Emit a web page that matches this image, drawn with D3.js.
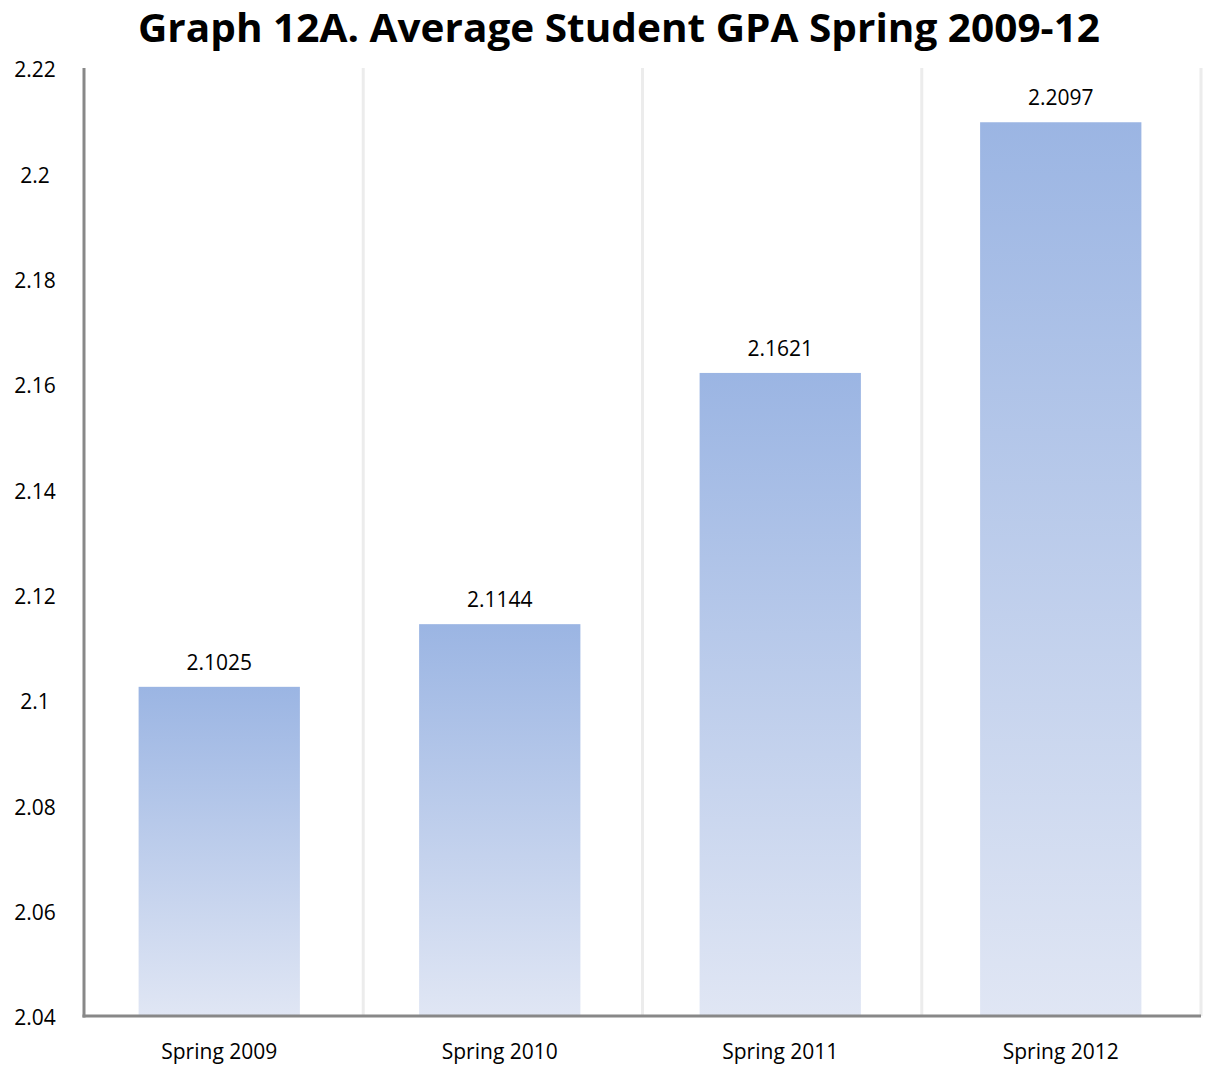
<!DOCTYPE html>
<html><head><meta charset="utf-8">
<script src="https://cdn.jsdelivr.net/npm/d3@7"></script>
<style>body{margin:0;background:#fff}svg{display:block}</style>
</head><body>
<svg id="c" width="1208" height="1079"></svg>
<script>
const categories = ["Spring 2009","Spring 2010","Spring 2011","Spring 2012"];
const values = [2.1025, 2.1144, 2.1621, 2.2097];
const labels = ["2.1025","2.1144","2.1621","2.2097"];
const yTicks = [2.04,2.06,2.08,2.1,2.12,2.14,2.16,2.18,2.2,2.22];
const title = "Graph 12A. Average Student GPA Spring 2009-12";

(function(){
const svg = d3.select("#c");
const pL = 84, pR = 1201, pT = 68, pB = 1016;
const font = "'Open Sans', sans-serif";

const x = d3.scaleBand().domain(categories).range([79, 1201]).paddingInner(0.425).paddingOuter(0.2125);
const grid = d3.scaleBand().domain(categories).range([pL, pR]);
const y = d3.scaleLinear().domain([2.04, 2.22]).range([pB, pT]);

const defs = svg.append("defs");
const g = defs.append("linearGradient").attr("id","bg").attr("x1",0).attr("y1",0).attr("x2",0).attr("y2",1);
g.append("stop").attr("offset","0%").attr("stop-color","#9bb5e3");
g.append("stop").attr("offset","100%").attr("stop-color","#e0e6f4");

svg.append("g").selectAll("line").data(categories).join("line")
  .attr("x1",d=>grid(d)+grid.step()).attr("x2",d=>grid(d)+grid.step()).attr("y1",pT).attr("y2",pB)
  .attr("stroke","#ececec").attr("stroke-width",3);

svg.append("g").selectAll("rect").data(values).join("rect")
  .attr("x",(d,i)=>x(categories[i])).attr("width",x.bandwidth())
  .attr("y",d=>y(d)).attr("height",d=>pB-y(d))
  .attr("fill","url(#bg)");

svg.append("g").selectAll("text").data(values).join("text")
  .attr("x",(d,i)=>x(categories[i])+x.bandwidth()/2).attr("y",d=>y(d)-17)
  .attr("text-anchor","middle").attr("font-family",font).attr("font-size",21)
  .attr("fill","#000").text((d,i)=>labels[i]);

const ya = d3.axisLeft(y).tickValues(yTicks).tickSize(0).tickPadding(26).tickFormat(d=>String(+d.toFixed(2)));
const yg = svg.append("g").attr("transform",`translate(${pL},0)`).call(ya);
yg.select(".domain").remove();
yg.selectAll("text").attr("font-family",font).attr("font-size",21).attr("fill","#000").attr("text-anchor","middle").attr("x",-49).attr("dy","0.42em");

const xa = d3.axisBottom(x).tickSize(0).tickPadding(28);
const xg = svg.append("g").attr("transform",`translate(0,${pB})`).call(xa);
xg.select(".domain").remove();
xg.selectAll("text").attr("font-family",font).attr("font-size",21).attr("fill","#000");

svg.append("line").attr("x1",pL).attr("x2",pL).attr("y1",pT).attr("y2",pB+1.5).attr("stroke","#888").attr("stroke-width",3);
svg.append("line").attr("x1",pL-1.5).attr("x2",pR).attr("y1",pB).attr("y2",pB).attr("stroke","#888").attr("stroke-width",3);

svg.append("text").attr("x",619).attr("y",42).attr("text-anchor","middle")
  .attr("font-family",font).attr("font-weight","bold").attr("font-size",39).attr("fill","#000")
  .attr("textLength",962).attr("lengthAdjust","spacingAndGlyphs").text(title);
})();
</script>
</body></html>
